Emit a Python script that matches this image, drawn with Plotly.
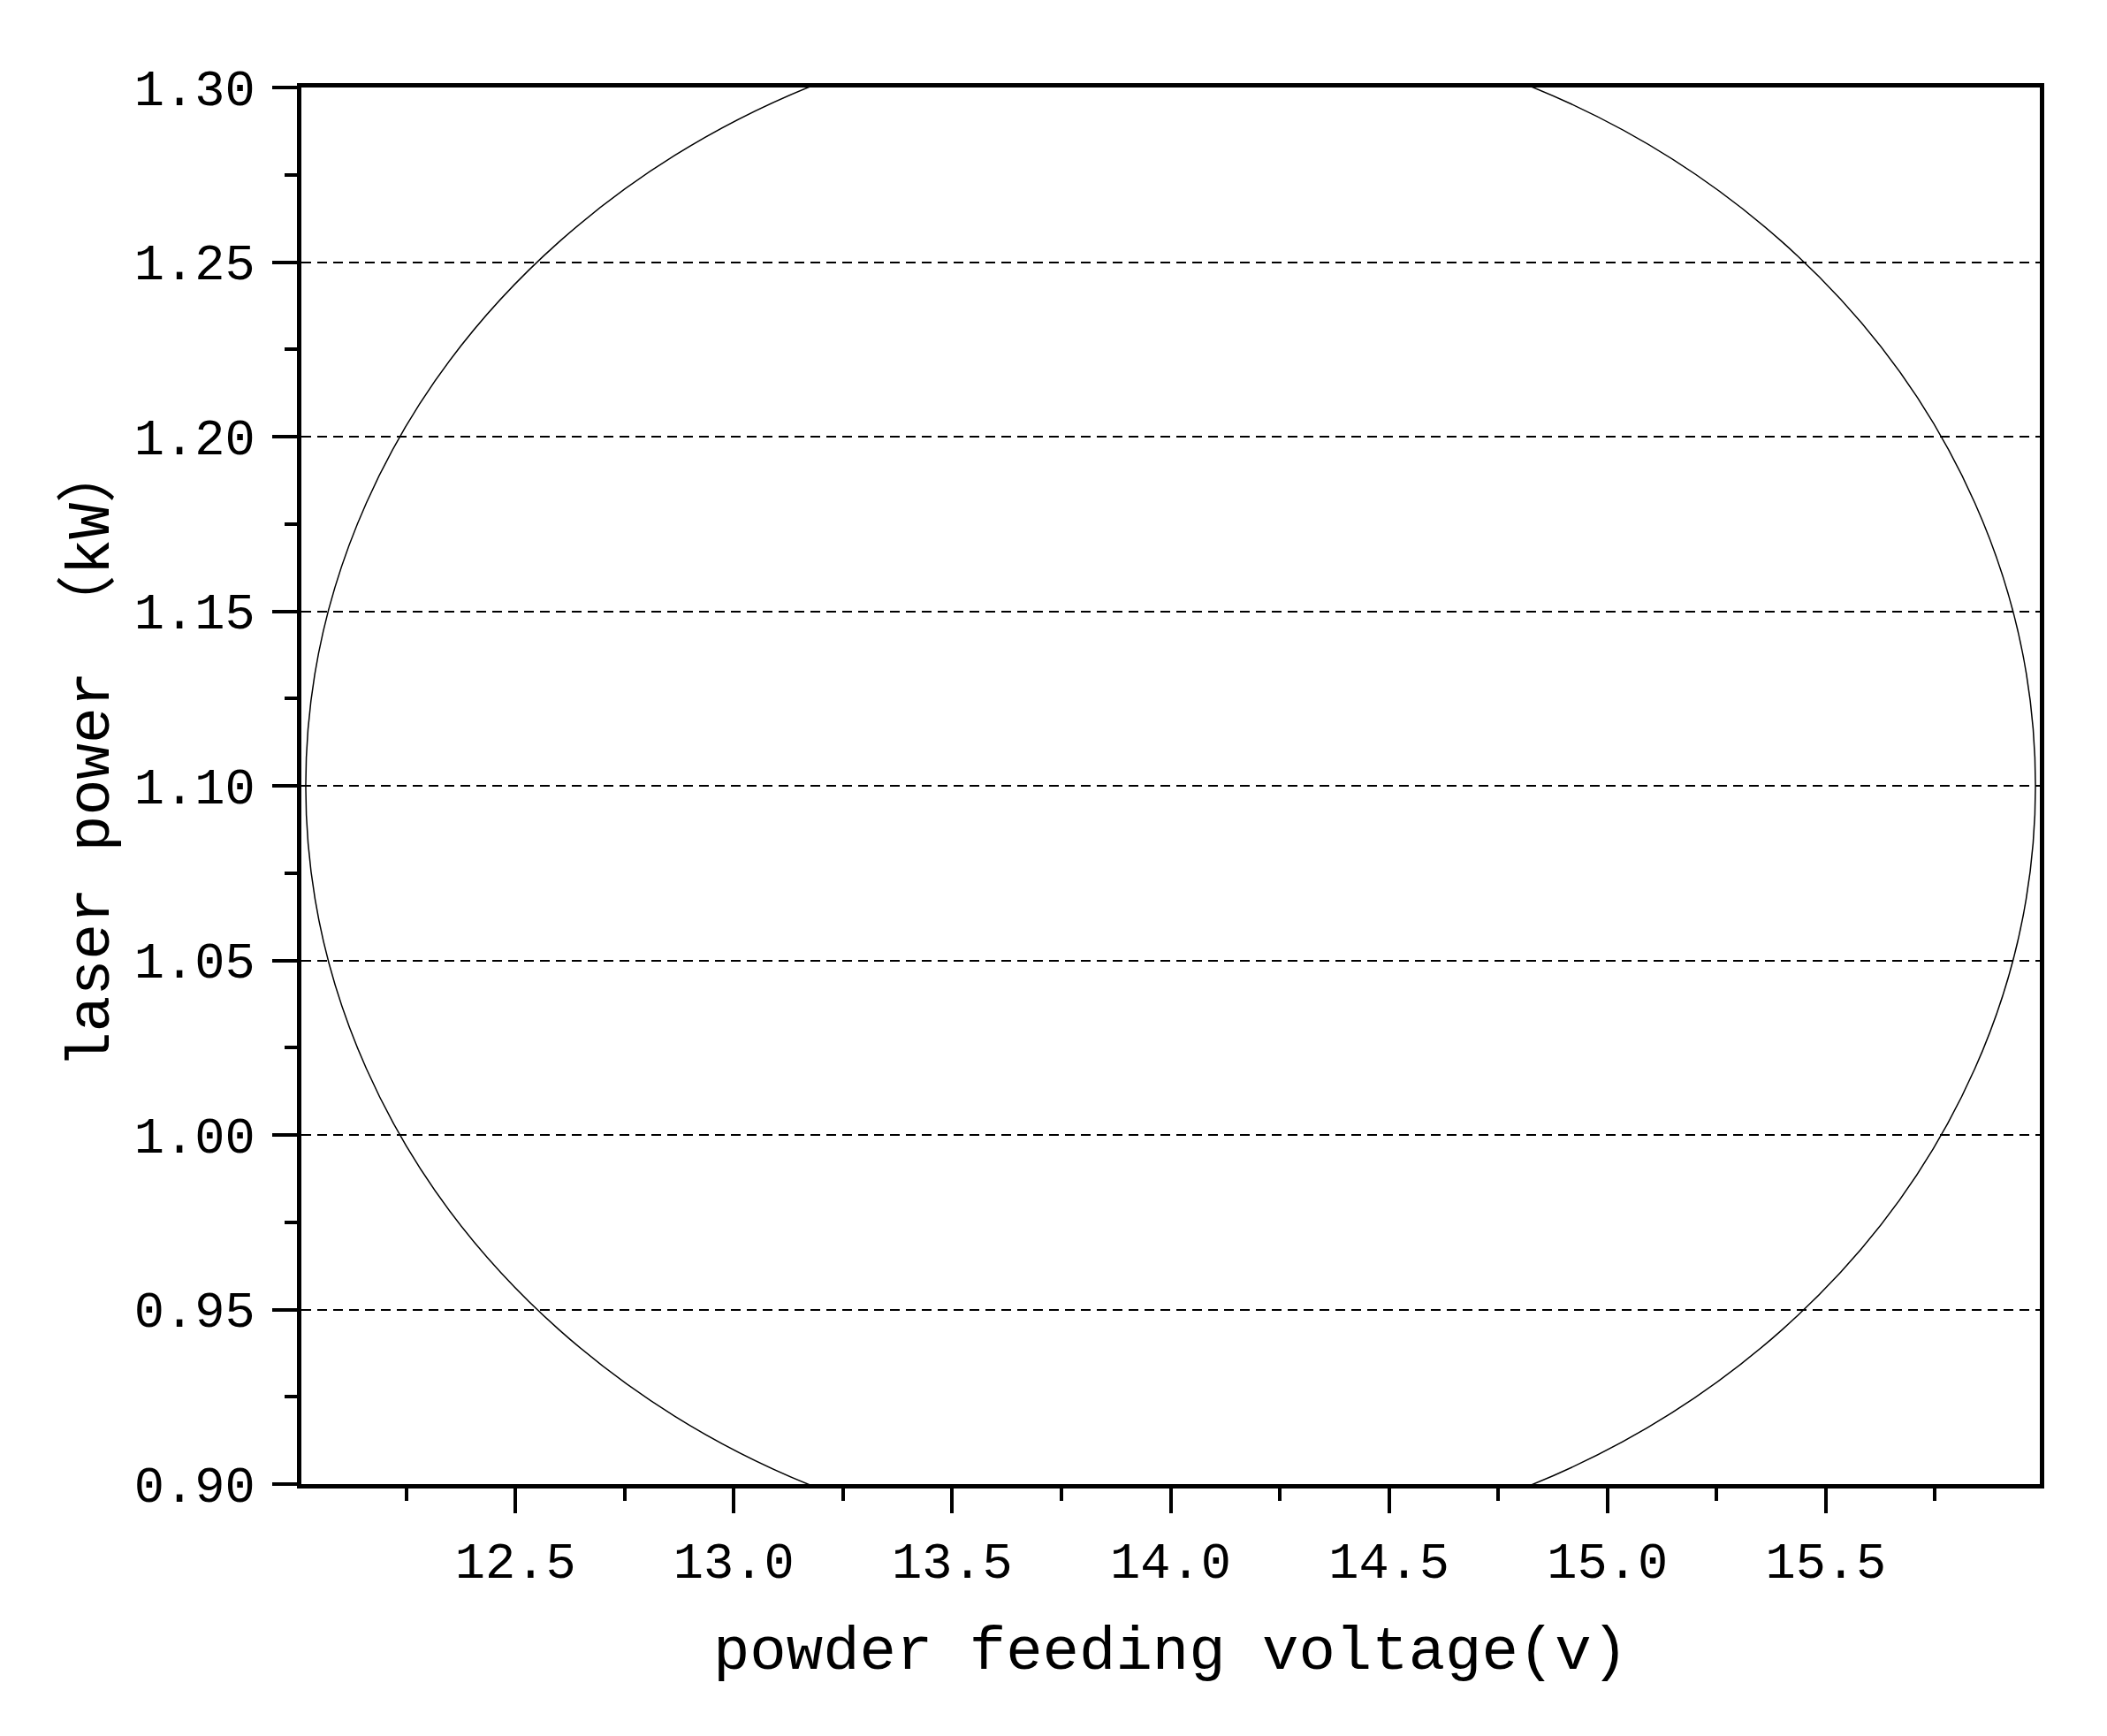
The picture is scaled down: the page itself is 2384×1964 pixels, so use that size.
import plotly.graph_objects as go

# ellipse bounding box (powder voltage, laser power)
ellipse_x = [12.02, 15.98]
ellipse_y = [0.8797, 1.3203]

x_range = [12.01, 15.99]
y_range = [0.90, 1.30]

x_title = "powder feeding voltage(v)"
y_title = "laser power （kW）"

font_name = "Liberation Mono, Noto Sans CJK SC"

fig = go.Figure()

# invisible trace so the axes exist
fig.add_trace(
    go.Scatter(x=x_range, y=y_range, mode="markers",
               marker=dict(opacity=0), hoverinfo="skip", showlegend=False)
)

fig.add_shape(
    type="circle",
    xref="x", yref="y",
    x0=ellipse_x[0], x1=ellipse_x[1],
    y0=ellipse_y[0], y1=ellipse_y[1],
    line=dict(color="black", width=1.5),
    layer="above",
)

axis_common = dict(
    showline=True,
    linecolor="black",
    linewidth=5,
    mirror=True,
    ticks="outside",
    ticklen=28,
    tickwidth=4,
    tickcolor="black",
    zeroline=False,
    tickfont=dict(family=font_name, size=57, color="black"),
    title_font=dict(family=font_name, size=69, color="black"),
)

fig.update_xaxes(
    range=x_range,
    tick0=12.5,
    dtick=0.5,
    tickformat=".1f",
    showgrid=False,
    minor=dict(ticks="outside", ticklen=14, tickwidth=4, tickcolor="black",
               dtick=0.25, tick0=12.25, showgrid=False),
    ticklabelstandoff=5,
    title=dict(text=x_title, standoff=40),
    **axis_common,
)

fig.update_yaxes(
    range=y_range,
    tick0=0.9,
    dtick=0.05,
    tickformat=".2f",
    showgrid=True,
    gridcolor="black",
    gridwidth=2,
    griddash="11px,7px",
    minor=dict(ticks="outside", ticklen=14, tickwidth=4, tickcolor="black",
               dtick=0.025, tick0=0.9, showgrid=False),
    ticklabelstandoff=8,
    **axis_common,
)

# y title placed by hand: it sits a little above the plot centre
fig.add_annotation(
    text=y_title,
    textangle=-90,
    xref="paper", yref="paper",
    x=-0.121, y=0.522,
    xanchor="center", yanchor="middle",
    showarrow=False,
    font=dict(family=font_name, size=68, color="black"),
)

fig.update_layout(
    width=2384,
    height=1964,
    margin=dict(l=333, r=84, t=91, b=293),
    plot_bgcolor="white",
    paper_bgcolor="white",
    showlegend=False,
)

fig.write_html("out.html")
